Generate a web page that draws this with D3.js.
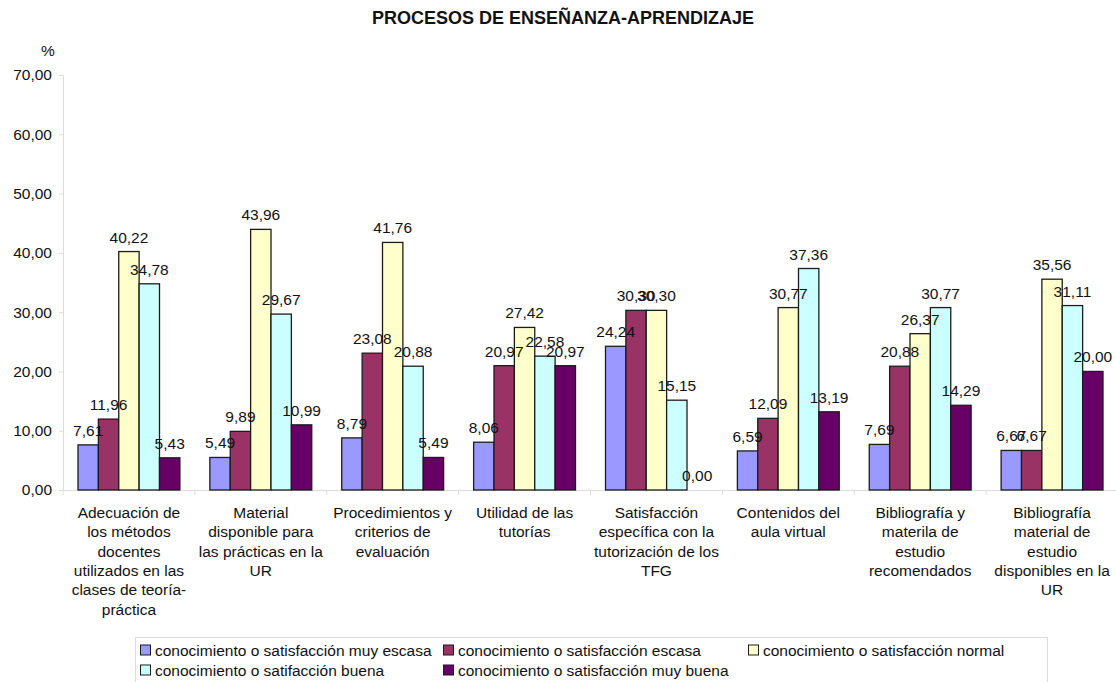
<!DOCTYPE html>
<html>
<head>
<meta charset="utf-8">
<title>Procesos de enseñanza-aprendizaje</title>
<script src="https://d3js.org/d3.v7.min.js"></script>
<style>
  body { margin: 0; background: #fff; }
  text { font-family: "Liberation Sans", Arial, Helvetica, sans-serif; fill: #111; }
</style>
</head>
<body>
<div id="chart"></div>
<script>
// categories (tick labels already split into lines, as in the picture)
const categories = [
  ["Adecuación de", "los métodos", "docentes", "utilizados en las", "clases de teoría-", "práctica"],
  ["Material", "disponible para", "las prácticas en la", "UR"],
  ["Procedimientos y", "criterios de", "evaluación"],
  ["Utilidad de las", "tutorías"],
  ["Satisfacción", "específica con la", "tutorización de los", "TFG"],
  ["Contenidos del", "aula virtual"],
  ["Bibliografía y", "materila de", "estudio", "recomendados"],
  ["Bibliografía", "material de", "estudio", "disponibles en la", "UR"]
];
const seriesNames = [
  "conocimiento o satisfacción muy escasa",
  "conocimiento o satisfacción escasa",
  "conocimiento o satisfacción normal",
  "conocimiento o satifacción buena",
  "conocimiento o satisfacción muy buena"
];
const muyEscasa = [7.61, 5.49, 8.79, 8.06, 24.24, 6.59, 7.69, 6.67];
const escasa    = [11.96, 9.89, 23.08, 20.97, 30.30, 12.09, 20.88, 6.67];
const normal    = [40.22, 43.96, 41.76, 27.42, 30.30, 30.77, 26.37, 35.56];
const buena     = [34.78, 29.67, 20.88, 22.58, 15.15, 37.36, 30.77, 31.11];
const muyBuena  = [5.43, 10.99, 5.49, 20.97, 0.00, 13.19, 14.29, 20.00];
const yTicks = [0, 10, 20, 30, 40, 50, 60, 70];

const series = [muyEscasa, escasa, normal, buena, muyBuena];
const colors = ["#9999ff", "#993366", "#ffffcc", "#ccffff", "#660066"];

const width = 1116, height = 682;
const fmt = v => v.toFixed(2).replace(".", ",");

const svg = d3.select("#chart").append("svg")
  .attr("width", width)
  .attr("height", height);

const x0 = d3.scaleBand()
  .domain(d3.range(categories.length))
  .range([63, 1118]);

const x1 = d3.scaleBand()
  .domain(d3.range(series.length))
  .range([15, x0.bandwidth() - 15]);

const y = d3.scaleLinear()
  .domain([0, 70])
  .range([490, 75]);

// title
svg.append("text")
  .attr("x", 563)
  .attr("y", 24)
  .attr("text-anchor", "middle")
  .style("font-weight", "bold")
  .style("font-size", "18px")
  .text("PROCESOS DE ENSEÑANZA-APRENDIZAJE");

svg.append("text")
  .attr("x", 48)
  .attr("y", 56)
  .attr("text-anchor", "middle")
  .style("font-size", "15.5px")
  .text("%");

// y axis
const yAxis = svg.append("g")
  .attr("transform", "translate(63,0)")
  .call(d3.axisLeft(y).tickValues(yTicks).tickFormat(fmt).tickSize(4).tickPadding(7));
yAxis.select(".domain").attr("stroke", "#dcdcdc");
yAxis.selectAll(".tick line").attr("stroke", "#dcdcdc");
yAxis.selectAll(".tick text")
  .style("font-size", "15.5px")
  .attr("fill", "#111");

// x axis: baseline and tick marks between categories
const xAxis = svg.append("g")
  .attr("transform", `translate(0,${y(0)})`)
  .call(d3.axisBottom(x0).tickValues([]).tickSizeOuter(0));
xAxis.select(".domain").attr("stroke", "#dcdcdc");
xAxis.selectAll(".sep")
  .data(d3.range(categories.length + 1))
  .join("line")
  .attr("class", "sep")
  .attr("x1", i => x0.range()[0] + i * x0.step())
  .attr("x2", i => x0.range()[0] + i * x0.step())
  .attr("y1", 0)
  .attr("y2", 5)
  .attr("stroke", "#dcdcdc");

// category labels
const catLabels = svg.append("g").selectAll("text")
  .data(categories)
  .join("text")
  .attr("text-anchor", "middle")
  .attr("y", 518)
  .style("font-size", "15.5px");
catLabels.each(function(lines, i) {
  d3.select(this).selectAll("tspan")
    .data(lines)
    .join("tspan")
    .attr("x", x0(i) + x0.bandwidth() / 2)
    .attr("dy", (d, k) => k === 0 ? 0 : 19.3)
    .text(d => d);
});

// bars
const groups = svg.append("g").selectAll("g")
  .data(categories)
  .join("g")
  .attr("transform", (d, i) => `translate(${x0(i)},0)`);

groups.selectAll("rect")
  .data((d, i) => series.map((s, k) => ({k, v: s[i]})))
  .join("rect")
  .attr("x", d => x1(d.k))
  .attr("width", x1.bandwidth())
  .attr("y", d => y(d.v))
  .attr("height", d => y(0) - y(d.v))
  .attr("fill", d => colors[d.k])
  .attr("stroke", "#1c1c1c")
  .attr("stroke-width", 1.3);

groups.selectAll("text")
  .data((d, i) => series.map((s, k) => ({k, v: s[i]})))
  .join("text")
  .attr("x", d => x1(d.k) + x1.bandwidth() / 2)
  .attr("y", d => y(d.v) - 9)
  .attr("text-anchor", "middle")
  .style("font-size", "15.5px")
  .text(d => fmt(d.v));

// legend
const legend = svg.append("g");
legend.append("rect")
  .attr("x", 135.5)
  .attr("y", 637.5)
  .attr("width", 912)
  .attr("height", 60)
  .attr("fill", "#fff")
  .attr("stroke", "#dcdcdc");

const legendCols = [140, 443, 748];
const legendItems = legend.selectAll("g.item")
  .data(seriesNames)
  .join("g")
  .attr("class", "item")
  .attr("transform", (d, i) => `translate(${legendCols[i % 3]},${i < 3 ? 650 : 670})`);

legendItems.append("rect")
  .attr("x", 0.5)
  .attr("y", -5)
  .attr("width", 10)
  .attr("height", 10)
  .attr("fill", (d, i) => colors[i])
  .attr("stroke", "#1c1c1c")
  .attr("stroke-width", 1);

legendItems.append("text")
  .attr("x", 15)
  .attr("y", 5.5)
  .style("font-size", "15.5px")
  .text(d => d);
</script>
</body>
</html>
